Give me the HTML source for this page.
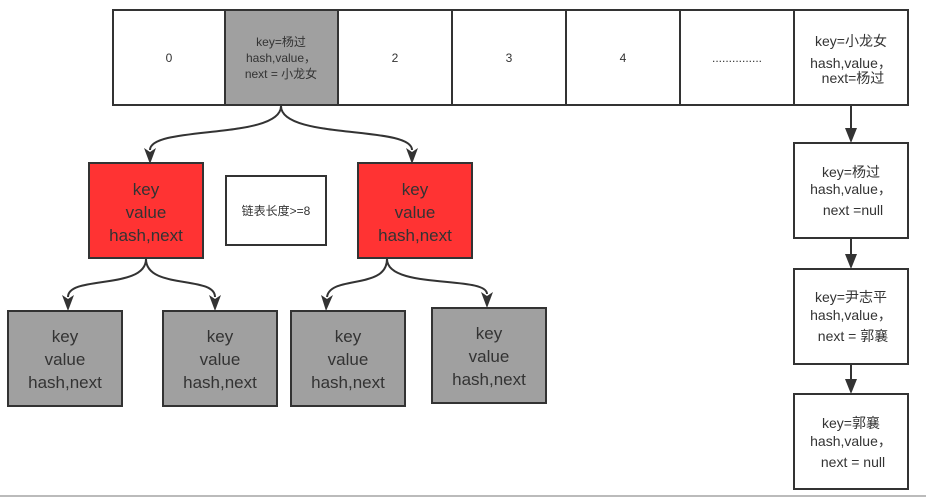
<!DOCTYPE html>
<html><head><meta charset="utf-8"><style>
body{margin:0;background:#fff}
svg text{font-family:"Liberation Sans","Noto Sans CJK SC",sans-serif;fill:#333;text-anchor:middle}
</style></head><body>
<svg width="926" height="498" viewBox="0 0 926 498" xmlns="http://www.w3.org/2000/svg">
<defs><marker id="a" markerWidth="10" markerHeight="12" refX="5" refY="11" orient="auto" markerUnits="userSpaceOnUse"><path d="M0,0 L5,12 L10,0 L5,3 Z" fill="#333" transform="rotate(0)"/></marker></defs>
<g stroke="#333" stroke-width="2">
<rect x="113" y="10" width="795" height="95" fill="#fff"/>
<rect x="225" y="10" width="113" height="95" fill="#a0a0a0"/>
<line x1="452" y1="10" x2="452" y2="105"/><line x1="566" y1="10" x2="566" y2="105"/>
<line x1="680" y1="10" x2="680" y2="105"/><line x1="794" y1="10" x2="794" y2="105"/>
<rect x="89" y="163" width="114" height="95" fill="#ff3333"/>
<rect x="358" y="163" width="114" height="95" fill="#ff3333"/>
<rect x="226" y="176" width="100" height="69" fill="#fff"/>
<rect x="8" y="311" width="114" height="95" fill="#a0a0a0"/>
<rect x="163" y="311" width="114" height="95" fill="#a0a0a0"/>
<rect x="291" y="311" width="114" height="95" fill="#a0a0a0"/>
<rect x="432" y="308" width="114" height="95" fill="#a0a0a0"/>
<rect x="794" y="143" width="114" height="95" fill="#fff"/>
<rect x="794" y="269" width="114" height="95" fill="#fff"/>
<rect x="794" y="394" width="114" height="95" fill="#fff"/>
<g fill="none">
<path d="M281,106 C281,140 150,125 150,150"/>
<path d="M281,106 C281,140 412,125 412,150"/>
<path d="M146,259 C146,290 68,275 68,297"/>
<path d="M146,259 C146,290 215,275 215,297"/>
<path d="M387,259 C387,290 330,275 327,297"/>
<path d="M387,259 C387,290 487,275 487,294"/>
<line x1="851" y1="106" x2="851" y2="130"/>
<line x1="851" y1="239" x2="851" y2="256"/>
<line x1="851" y1="365" x2="851" y2="381"/>
</g></g>
<g fill="#333">
<path d="M144,148 L150,164 L156,148 L150,152Z"/>
<path d="M406,148 L412,164 L418,148 L412,152Z"/>
<path d="M62,295 L68,311 L74,295 L68,299Z"/>
<path d="M209,295 L215,311 L221,295 L215,299Z"/>
<path d="M321,295 L326,311 L333,295 L327,299Z"/>
<path d="M481,292 L487,308 L493,292 L487,296Z"/>
<path d="M845,128 L851,143 L857,128Z"/>
<path d="M845,254 L851,269 L857,254Z"/>
<path d="M845,379 L851,394 L857,379Z"/>
</g>
<line x1="0" y1="496" x2="926" y2="496" stroke="#bbb" stroke-width="2"/>
<g font-size="12">
<text x="169" y="62">0</text>
<text x="281" y="46">key=杨过</text><text x="281" y="62">hash,value，</text><text x="281" y="78">next = 小龙女</text>
<text x="395" y="62">2</text><text x="509" y="62">3</text><text x="623" y="62">4</text>
<text x="737" y="62">...............</text>
<text x="276" y="215">链表长度&gt;=8</text>
</g>
<g font-size="14">
<text x="851" y="46">key=小龙女</text><text x="851" y="68">hash,value，</text><text x="853" y="83">next=杨过</text>
<text x="851" y="177">key=杨过</text><text x="851" y="194">hash,value，</text><text x="853" y="215">next =null</text>
<text x="851" y="302">key=尹志平</text><text x="851" y="320">hash,value，</text><text x="853" y="341">next = 郭襄</text>
<text x="851" y="428">key=郭襄</text><text x="851" y="446">hash,value，</text><text x="853" y="467">next = null</text>
</g>
<g font-size="17">
<text x="146" y="195">key</text><text x="146" y="218">value</text><text x="146" y="241">hash,next</text>
<text x="415" y="195">key</text><text x="415" y="218">value</text><text x="415" y="241">hash,next</text>
<text x="65" y="342">key</text><text x="65" y="365">value</text><text x="65" y="388">hash,next</text>
<text x="220" y="342">key</text><text x="220" y="365">value</text><text x="220" y="388">hash,next</text>
<text x="348" y="342">key</text><text x="348" y="365">value</text><text x="348" y="388">hash,next</text>
<text x="489" y="339">key</text><text x="489" y="362">value</text><text x="489" y="385">hash,next</text>
</g>
</svg>
</body></html>
